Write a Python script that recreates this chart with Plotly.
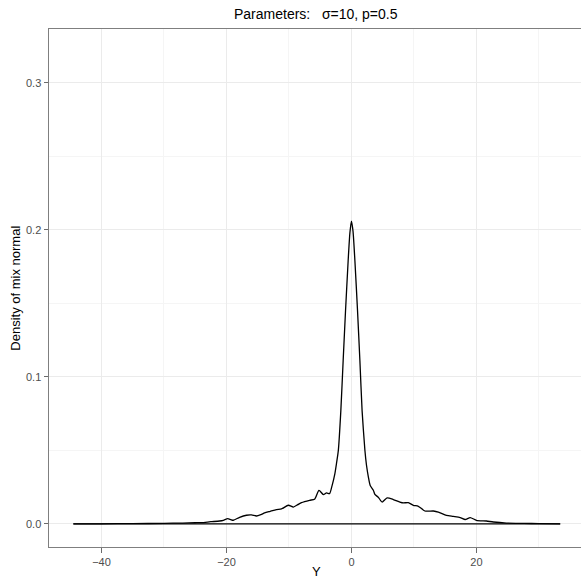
import plotly.graph_objects as go

# Density curve
y_vals = [-44.5, -40, -35, -30, -27, -25, -24, -22.5, -21.1, -20.5, -19.8, -19.3, -18.9,
          -17.9, -16.8, -16.0, -15.2, -14.5, -13.9, -13.0, -12.0, -11.2, -10.1, -9.3,
          -8.6, -8.0, -6.7, -5.9, -5.2, -4.5, -4.0, -3.5, -3.1, -2.66, -2.4, -2.1, -1.7,
          -1.33, -0.95, -0.53, -0.25, 0.0, 0.25, 0.55, 0.97, 1.35, 1.7, 2.15, 2.4, 2.7,
          3.0, 3.5, 3.75, 4.3, 4.9, 5.7, 6.7, 7.75, 8.3, 9.1, 9.9, 10.7, 11.75, 13.1,
          13.9, 15.2, 16.3, 17.4, 18.2, 19.0, 20.0, 21.6, 22.7, 24.8, 27.6, 30.0, 33.4]
density = [0.0, 0.0, 0.0001, 0.0003, 0.0005, 0.0007, 0.0008, 0.0014, 0.0019, 0.0024, 0.0035,
           0.0028, 0.0024, 0.0044, 0.0058, 0.0060, 0.0053, 0.0062, 0.0074, 0.0085, 0.0097,
           0.0101, 0.0126, 0.0114, 0.0130, 0.0144, 0.0160, 0.0167, 0.0228, 0.0199, 0.0210,
           0.0205, 0.026, 0.034, 0.041, 0.050, 0.077, 0.111, 0.145, 0.179, 0.198, 0.206,
           0.199, 0.179, 0.145, 0.111, 0.077, 0.050, 0.040, 0.032, 0.026, 0.0228, 0.0200,
           0.018, 0.0148, 0.0176, 0.0165, 0.0148, 0.0142, 0.0144, 0.0126, 0.0119, 0.0087,
           0.0087, 0.0080, 0.0058, 0.0050, 0.0042, 0.0029, 0.0042, 0.0024, 0.0019, 0.0012,
           0.0005, 0.0003, 0.0001, 0.0]

x_ticks = [-40, -20, 0, 20, 40]
y_ticks = [0.0, 0.1, 0.2, 0.3]
y_tick_text = ["0.0", "0.1", "0.2", "0.3"]

title_text = "Parameters:   σ=10, p=0.5"
x_title = "Y"
y_title = "Density of mix normal"

W, H = 581, 580
L, R, T, B = 49.3, 0, 28.5, 33.3
pw, ph = W - L - R, H - T - B

fig = go.Figure()
# baseline of the density polygon
fig.add_trace(go.Scatter(x=[y_vals[0], y_vals[-1]], y=[0, 0], mode="lines",
                         line=dict(color="black", width=1.3), hoverinfo="skip",
                         showlegend=False))
fig.add_trace(go.Scatter(x=y_vals, y=density, mode="lines",
                         line=dict(color="black", width=1.3, shape="spline", smoothing=0.6),
                         showlegend=False))

font = "Liberation Sans, Arial, Helvetica, sans-serif"
fig.update_layout(
    width=W, height=H,
    margin=dict(l=L, r=R, t=T, b=B, pad=0),
    paper_bgcolor="white", plot_bgcolor="white",
    font=dict(family=font, color="#000000"),
    xaxis=dict(range=[-48.4, 36.73], tickvals=x_ticks, ticks="outside", ticklen=4.5,
               tickcolor="#6b6b6b", tickwidth=1,
               tickfont=dict(size=11, color="#4d4d4d", family=font),
               showgrid=True, gridcolor="#EBEBEB", gridwidth=1,
               minor=dict(tickvals=[-30, -10, 10, 30], showgrid=True, gridcolor="#F5F5F5",
                          gridwidth=1, ticks=""),
               showline=True, linecolor="#7f7f7f", linewidth=1, mirror=True,
               zeroline=False, fixedrange=True),
    yaxis=dict(range=[-0.0158, 0.3367], tickvals=y_ticks, ticktext=y_tick_text,
               ticks="outside", ticklen=4.5, tickcolor="#6b6b6b", tickwidth=1,
               tickfont=dict(size=11, color="#4d4d4d", family=font),
               showgrid=True, gridcolor="#EBEBEB", gridwidth=1,
               minor=dict(tickvals=[0.05, 0.15, 0.25], showgrid=True, gridcolor="#F5F5F5",
                          gridwidth=1, ticks=""),
               showline=True, linecolor="#7f7f7f", linewidth=1, mirror=False,
               zeroline=False, fixedrange=True),
    annotations=[
        dict(text=title_text, xref="paper", yref="paper",
             x=(316.5 - L) / pw, y=1 + (T - 13) / ph, xanchor="center", yanchor="middle",
             showarrow=False, font=dict(size=14, family=font, color="black")),
        dict(text=x_title, xref="paper", yref="paper",
             x=(316.5 - L) / pw, y=-(571 - (H - B)) / ph, xanchor="center", yanchor="middle",
             showarrow=False, font=dict(size=13, family=font, color="black")),
        dict(text=y_title, xref="paper", yref="paper",
             x=-(L - 15) / pw, y=0.5, xanchor="center", yanchor="middle", textangle=-90,
             showarrow=False, font=dict(size=13, family=font, color="black")),
    ],
)

fig.write_html("out.html")
